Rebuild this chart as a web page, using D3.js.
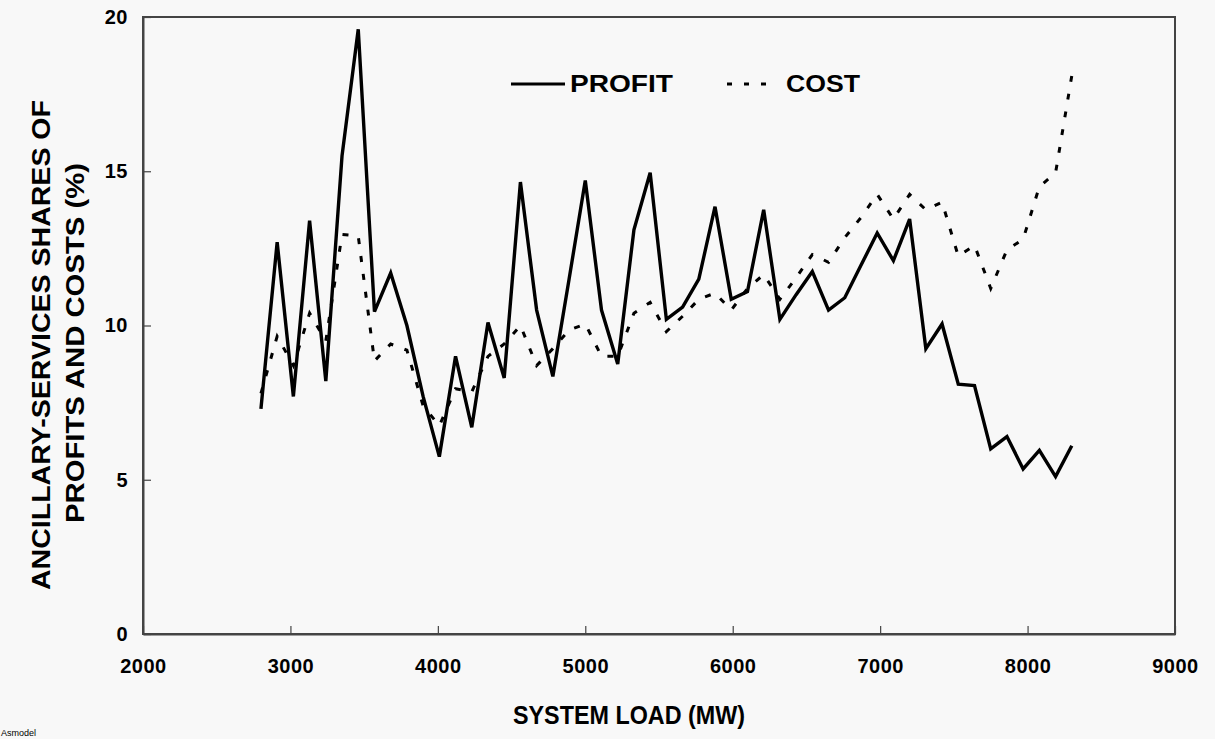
<!DOCTYPE html>
<html>
<head>
<meta charset="utf-8">
<script src="https://cdn.jsdelivr.net/npm/d3@7"></script>
<style>
  html, body { margin: 0; padding: 0; background: #f8f8f8; }
  svg { display: block; }
  text { font-family: "Liberation Sans", Arial, Helvetica, sans-serif; font-weight: bold; fill: #000; }
</style>
</head>
<body>
<svg id="chart" width="1215" height="739"></svg>
<script>
// ---- data ----
const loads = [2800, 2910, 3020, 3130, 3240, 3350, 3460, 3570, 3680, 3790,
               3900, 4010, 4120, 4230, 4340, 4450, 4560, 4670, 4780, 4890,
               5000, 5110, 5220, 5330, 5440, 5550, 5660, 5770, 5880, 5990,
               6100, 6210, 6320, 6430, 6540, 6650, 6760, 6870, 6980, 7090,
               7200, 7310, 7420, 7530, 7640, 7750, 7860, 7970, 8080, 8190, 8300];
const profit = [7.3, 12.7, 7.7, 13.4, 8.2, 15.5, 19.6, 10.45, 11.7, 10.0,
                7.7, 5.75, 9.0, 6.7, 10.1, 8.3, 14.65, 10.5, 8.35, 11.5,
                14.7, 10.5, 8.75, 13.1, 14.95, 10.2, 10.6, 11.5, 13.85, 10.85,
                11.1, 13.75, 10.2, 11.0, 11.75, 10.5, 10.9, 11.95, 13.0, 12.1,
                13.45, 9.25, 10.05, 8.1, 8.05, 6.0, 6.4, 5.35, 5.95, 5.1, 6.1];
const cost = [7.8, 9.65, 8.7, 10.4, 9.5, 12.95, 12.9, 8.85, 9.4, 9.2,
              7.4, 6.75, 7.95, 7.85, 9.0, 9.4, 10.0, 8.7, 9.25, 9.85,
              10.05, 9.0, 9.0, 10.4, 10.75, 9.8, 10.3, 10.85, 11.05, 10.5,
              11.2, 11.65, 10.85, 11.55, 12.3, 12.05, 12.85, 13.5, 14.25, 13.45,
              14.25, 13.75, 14.0, 12.25, 12.6, 11.2, 12.45, 12.8, 14.5, 14.95, 18.1];
const xTicks = [2000, 3000, 4000, 5000, 6000, 7000, 8000, 9000];
const yTicks = [0, 5, 10, 15, 20];
const seriesNames = ["PROFIT", "COST"];
const xTitle = "SYSTEM LOAD (MW)";
const yTitle = ["ANCILLARY-SERVICES SHARES OF", "PROFITS AND COSTS (%)"];
const footnote = "Asmodel";

// ---- layout ----
const svg = d3.select("#chart");
const pL = 143, pR = 1175, pT = 17, pB = 634;

const x = d3.scaleLinear().domain([2000, 9000]).range([pL, pR]);
const y = d3.scaleLinear().domain([0, 20]).range([pB, pT]);

// frame
svg.append("rect")
  .attr("x", pL).attr("y", pT)
  .attr("width", pR - pL).attr("height", pB - pT)
  .attr("fill", "none").attr("stroke", "#444").attr("stroke-width", 2);

// axes
const tickFont = "'Liberation Sans', Arial, sans-serif";
const xAxis = d3.axisBottom(x).tickValues(xTicks).tickFormat(d3.format("d"))
  .tickSizeInner(-8).tickSizeOuter(0).tickPadding(25);
const gx = svg.append("g").attr("transform", `translate(0,${pB})`).call(xAxis);
gx.select(".domain").attr("stroke", "#444").attr("stroke-width", 2);
gx.selectAll(".tick line").attr("stroke", "#444").attr("stroke-width", 1.2);
gx.selectAll(".tick text").style("font-size", "20px").style("font-family", tickFont)
  .style("font-weight", "bold").attr("fill", "#000").attr("letter-spacing", "0.5px");

const yAxis = d3.axisLeft(y).tickValues(yTicks).tickFormat(d3.format("d"))
  .tickSizeInner(-8).tickSizeOuter(0).tickPadding(15);
const gy = svg.append("g").attr("transform", `translate(${pL},0)`).call(yAxis);
gy.select(".domain").attr("stroke", "#444").attr("stroke-width", 2);
gy.selectAll(".tick line").attr("stroke", "#444").attr("stroke-width", 1.2);
gy.selectAll(".tick text").style("font-size", "20px").style("font-family", tickFont)
  .style("font-weight", "bold").attr("fill", "#000").attr("letter-spacing", "0.5px");

// lines
const profitData = loads.map((l, i) => [l, profit[i]]);
const costData = loads.map((l, i) => [l, cost[i]]);
const line = d3.line().x(d => x(d[0])).y(d => y(d[1]));

svg.append("path").datum(costData)
  .attr("d", line).attr("fill", "none").attr("stroke", "#000")
  .attr("stroke-width", 3).attr("stroke-dasharray", "6,12");

svg.append("path").datum(profitData)
  .attr("d", line).attr("fill", "none").attr("stroke", "#000")
  .attr("stroke-width", 3.4).attr("stroke-linejoin", "miter");

// legend
const lg = svg.append("g");
lg.append("line").attr("x1", 511).attr("x2", 565).attr("y1", 84).attr("y2", 84)
  .attr("stroke", "#000").attr("stroke-width", 3);
lg.append("text").attr("x", 570).attr("y", 92).text(seriesNames[0])
  .style("font-size", "23px").attr("textLength", 103).attr("lengthAdjust", "spacingAndGlyphs");
lg.append("line").attr("x1", 727).attr("x2", 770).attr("y1", 84).attr("y2", 84)
  .attr("stroke", "#000").attr("stroke-width", 3).attr("stroke-dasharray", "5,12");
lg.append("text").attr("x", 786).attr("y", 92).text(seriesNames[1])
  .style("font-size", "23px").attr("textLength", 74).attr("lengthAdjust", "spacingAndGlyphs");

// axis titles
svg.append("text").attr("x", 629).attr("y", 724).attr("text-anchor", "middle")
  .style("font-size", "26px").attr("textLength", 232).attr("lengthAdjust", "spacingAndGlyphs")
  .text(xTitle);

svg.append("text").attr("transform", "translate(50,345) rotate(-90)")
  .attr("text-anchor", "middle").style("font-size", "26px")
  .attr("textLength", 490).attr("lengthAdjust", "spacingAndGlyphs").text(yTitle[0]);
svg.append("text").attr("transform", "translate(84,343) rotate(-90)")
  .attr("text-anchor", "middle").style("font-size", "26px")
  .attr("textLength", 360).attr("lengthAdjust", "spacingAndGlyphs").text(yTitle[1]);

// footnote
svg.append("text").attr("x", 1).attr("y", 736).text(footnote)
  .style("font-size", "9px").style("font-weight", "normal");
</script>
</body>
</html>
